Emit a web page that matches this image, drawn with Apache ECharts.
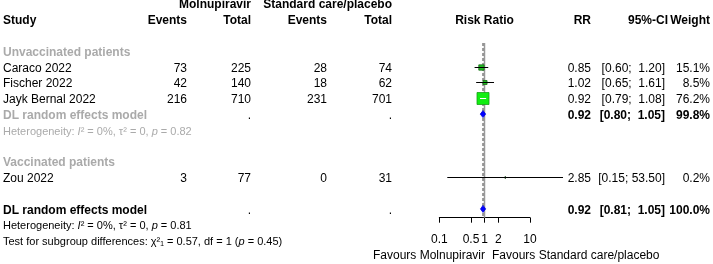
<!DOCTYPE html>
<html>
<head>
<meta charset="UTF-8">
<title>Forest plot: Molnupiravir vs standard care</title>
<style>
  html, body { margin: 0; padding: 0; background: #fff; }
  #chart { width: 713px; height: 264px; }
</style>
<script src="https://cdn.jsdelivr.net/npm/echarts@6.0.0/dist/echarts.min.js"></script>
</head>
<body>
<div id="chart"></div>
<script>
var FONT = '"Liberation Sans", Arial, sans-serif';
var GRAY = '#aaaaaa';

// study rows
var studies   = ['Caraco 2022', 'Fischer 2022', 'Jayk Bernal 2022', 'Zou 2022'];
var studyRows = [4, 5, 6, 11];
var eventsMol = [73, 42, 216, 3];
var totalMol  = [225, 140, 710, 77];
var eventsCtl = [28, 18, 231, 0];
var totalCtl  = [74, 62, 701, 31];
var rr        = [0.85, 1.02, 0.92, 2.85];
var ciLow     = [0.60, 0.65, 0.79, 0.15];
var ciHigh    = [1.20, 1.61, 1.08, 53.50];
var weights   = [15.1, 8.5, 76.2, 0.2];

// pooled rows: subgroup (unvaccinated) and overall
var poolRows   = [7, 13];
var poolRR     = [0.92, 0.92];
var poolLow    = [0.80, 0.81];
var poolHigh   = [1.05, 1.05];
var poolWeight = [99.8, 100.0];
var poolColors = [GRAY, '#000'];

var groupLabels = ['Unvaccinated patients', 'Vaccinated patients'];
var groupRows   = [3, 10];

var hetRows  = [8, 14];
var hetP     = ['0.82', '0.81'];
var hetColor = [GRAY, '#000'];

var tickValues = [0.1, 0.5, 1, 2, 10];
var tickLabels = ['0.1', '0.5', '1', '2', '10'];

// layout (pixels)
var col = { study: 3, ev1: 187, tot1: 251, ev2: 327, tot2: 392, rr: 591, ci: 665, w: 710 };
var AXIS_ROW = 13.557;   // row where the x axis line sits in the forest grid
var LINE_TOP = 2.5;

var lg = Math.log10;

// ---- text items
var textItems = [];
function addText(x, row, text, align, opts) {
  opts = opts || {};
  textItems.push({
    value: [x, row],
    text: text,
    align: align,
    bold: !!opts.bold,
    color: opts.color || '#000',
    size: opts.size || 12,
    rich: opts.rich
  });
}
function fmtCI(lo, hi) {
  return '[' + lo.toFixed(2) + ';' + (hi >= 10 ? ' ' : '  ') + hi.toFixed(2) + ']';
}

addText(col.tot1, 0, 'Molnupiravir', 'right', { bold: true });
addText(col.tot2, 0, 'Standard care/placebo', 'right', { bold: true });
addText(col.study, 1, 'Study', 'left', { bold: true });
addText(col.ev1, 1, 'Events', 'right', { bold: true });
addText(col.tot1, 1, 'Total', 'right', { bold: true });
addText(col.ev2, 1, 'Events', 'right', { bold: true });
addText(col.tot2, 1, 'Total', 'right', { bold: true });
addText(484.5, 1, 'Risk Ratio', 'center', { bold: true });
addText(col.rr, 1, 'RR', 'right', { bold: true });
addText(668, 1, '95%-CI', 'right', { bold: true });
addText(col.w, 1, 'Weight', 'right', { bold: true });

groupLabels.forEach(function (g, i) {
  addText(col.study, groupRows[i], g, 'left', { bold: true, color: GRAY });
});

studies.forEach(function (s, i) {
  var r = studyRows[i];
  addText(col.study, r, s, 'left');
  addText(col.ev1, r, String(eventsMol[i]), 'right');
  addText(col.tot1, r, String(totalMol[i]), 'right');
  addText(col.ev2, r, String(eventsCtl[i]), 'right');
  addText(col.tot2, r, String(totalCtl[i]), 'right');
  addText(col.rr, r, rr[i].toFixed(2), 'right');
  addText(col.ci, r, fmtCI(ciLow[i], ciHigh[i]), 'right');
  addText(col.w, r, weights[i].toFixed(1) + '%', 'right');
});

poolRows.forEach(function (r, i) {
  addText(col.study, r, 'DL random effects model', 'left', { bold: true, color: poolColors[i] });
  addText(col.tot1, r, '.', 'right');
  addText(col.tot2, r, '.', 'right');
  addText(col.rr, r, poolRR[i].toFixed(2), 'right', { bold: true });
  addText(col.ci, r, fmtCI(poolLow[i], poolHigh[i]), 'right', { bold: true });
  addText(col.w, r, poolWeight[i].toFixed(1) + '%', 'right', { bold: true });
});

hetRows.forEach(function (r, i) {
  addText(col.study, r, 'Heterogeneity: {i|I}\u00b2 = 0%, \u03c4\u00b2 = 0, {i|p} = ' + hetP[i], 'left',
    { size: 11, color: hetColor[i], rich: true });
});
addText(col.study, 15, 'Test for subgroup differences: \u03c7\u00b2\u2081 = 0.57, df = 1 ({i|p} = 0.45)', 'left',
  { size: 11, rich: true });

addText(485, 15.85, 'Favours Molnupiravir', 'right');
addText(492, 15.85, 'Favours Standard care/placebo', 'left');

function renderText(params, api) {
  var t = textItems[params.dataIndex];
  var p = api.coord([api.value(0), api.value(1)]);
  var style = {
    text: t.text,
    fill: t.color,
    fontFamily: FONT,
    fontSize: t.size,
    fontWeight: t.bold ? 'bold' : 'normal',
    align: t.align,
    verticalAlign: 'middle'
  };
  if (t.rich) {
    style.rich = { i: { fontStyle: 'italic', fontFamily: FONT, fontSize: t.size, fill: t.color } };
  }
  return { type: 'text', x: p[0], y: p[1], style: style };
}

// ---- forest marks
var studyData = studies.map(function (s, i) {
  return [lg(rr[i]), studyRows[i], lg(ciLow[i]), lg(ciHigh[i]), weights[i]];
});
var poolData = poolRows.map(function (r, i) {
  return [lg(poolRR[i]), r, lg(poolLow[i]), lg(poolHigh[i])];
});
var maxWeight = Math.max.apply(null, weights);

function renderStudy(params, api) {
  var row = api.value(1);
  var c = api.coord([api.value(0), row]);
  var lo = api.coord([api.value(2), row]);
  var hi = api.coord([api.value(3), row]);
  var y = Math.round(c[1]) + 0.5;
  var s = 12 * Math.sqrt(api.value(4) / maxWeight);
  var inside = lo[0] >= c[0] - s / 2 && hi[0] <= c[0] + s / 2;
  var mark;
  if (s < 2) {
    // tiny weight: drawn as a short dark tick
    mark = { type: 'line', shape: { x1: c[0], y1: y - 1.5, x2: c[0], y2: y + 1.5 },
      style: { stroke: '#1f4f1f', lineWidth: 1 } };
  } else {
    mark = { type: 'rect', shape: { x: c[0] - s / 2, y: y - s / 2, width: s, height: s },
      style: { fill: s > 6 ? '#11ee11' : '#22bb22', stroke: s > 6 ? '#18a018' : '#167016', lineWidth: 0.8 } };
  }
  return {
    type: 'group',
    children: [
      mark,
      { type: 'line', shape: { x1: lo[0], y1: y, x2: hi[0], y2: y },
        style: { stroke: inside ? '#ffffff' : '#000000', lineWidth: 1 } }
    ]
  };
}

function renderPool(params, api) {
  var row = api.value(1);
  var c = api.coord([api.value(0), row]);
  var lo = api.coord([api.value(2), row]);
  var hi = api.coord([api.value(3), row]);
  var h = 3.5;
  return {
    type: 'polygon',
    shape: { points: [[lo[0], c[1]], [c[0], c[1] - h], [hi[0], c[1]], [c[0], c[1] + h]] },
    style: { fill: '#0000ff', stroke: '#0000dd', lineWidth: 0.8 }
  };
}

// reference lines: no effect (RR = 1) and overall pooled estimate
var refLines = [[lg(1), LINE_TOP, AXIS_ROW, 0], [lg(poolRR[1]), LINE_TOP, AXIS_ROW, 1]];
function renderRef(params, api) {
  var a = api.coord([api.value(0), api.value(1)]);
  var b = api.coord([api.value(0), api.value(2)]);
  var dashed = api.value(3) === 1;
  var x = dashed ? a[0] : Math.round(a[0]) - 0.5;
  return {
    type: 'line',
    shape: { x1: x, y1: a[1], x2: x, y2: b[1] },
    style: dashed ? { stroke: '#606060', lineWidth: 1.2, lineDash: [3, 2] }
                  : { stroke: '#9a9a9a', lineWidth: 1.5 }
  };
}

var logTicks = tickValues.map(lg);

var chart = echarts.init(document.getElementById('chart'));
chart.setOption({
  animation: false,
  backgroundColor: '#fff',
  grid: [
    { left: 439.3, width: 90.7, top: 3.5, height: 214.2, outerBoundsMode: 'none', containLabel: false },
    { left: 0, right: 0, top: 5.1, height: 252.8, outerBoundsMode: 'none', containLabel: false }
  ],
  xAxis: [
    {
      gridIndex: 0, type: 'value', min: -1, max: 1,
      axisLine: { show: true, onZero: false, lineStyle: { color: '#000', width: 1 } },
      axisTick: { show: true, customValues: logTicks, length: 5, lineStyle: { color: '#000' } },
      axisLabel: {
        show: true, customValues: logTicks, margin: 16, fontSize: 12, color: '#000', fontFamily: FONT,
        formatter: function (v) {
          for (var i = 0; i < logTicks.length; i++) {
            if (Math.abs(logTicks[i] - v) < 1e-6) return tickLabels[i];
          }
          return '';
        }
      },
      splitLine: { show: false }
    },
    { gridIndex: 1, type: 'value', min: 0, max: 713, show: false }
  ],
  yAxis: [
    { gridIndex: 0, type: 'value', inverse: true, min: 0, max: AXIS_ROW, show: false },
    { gridIndex: 1, type: 'value', inverse: true, min: 0, max: 16, show: false }
  ],
  series: [
    { type: 'custom', xAxisIndex: 0, yAxisIndex: 0, renderItem: renderRef, data: refLines, z: 1 },
    { type: 'custom', xAxisIndex: 0, yAxisIndex: 0, renderItem: renderStudy, data: studyData, clip: false, z: 2 },
    { type: 'custom', xAxisIndex: 0, yAxisIndex: 0, renderItem: renderPool, data: poolData, z: 3 },
    { type: 'custom', xAxisIndex: 1, yAxisIndex: 1, renderItem: renderText, data: textItems, silent: true, z: 4 }
  ]
});
</script>
</body>
</html>
